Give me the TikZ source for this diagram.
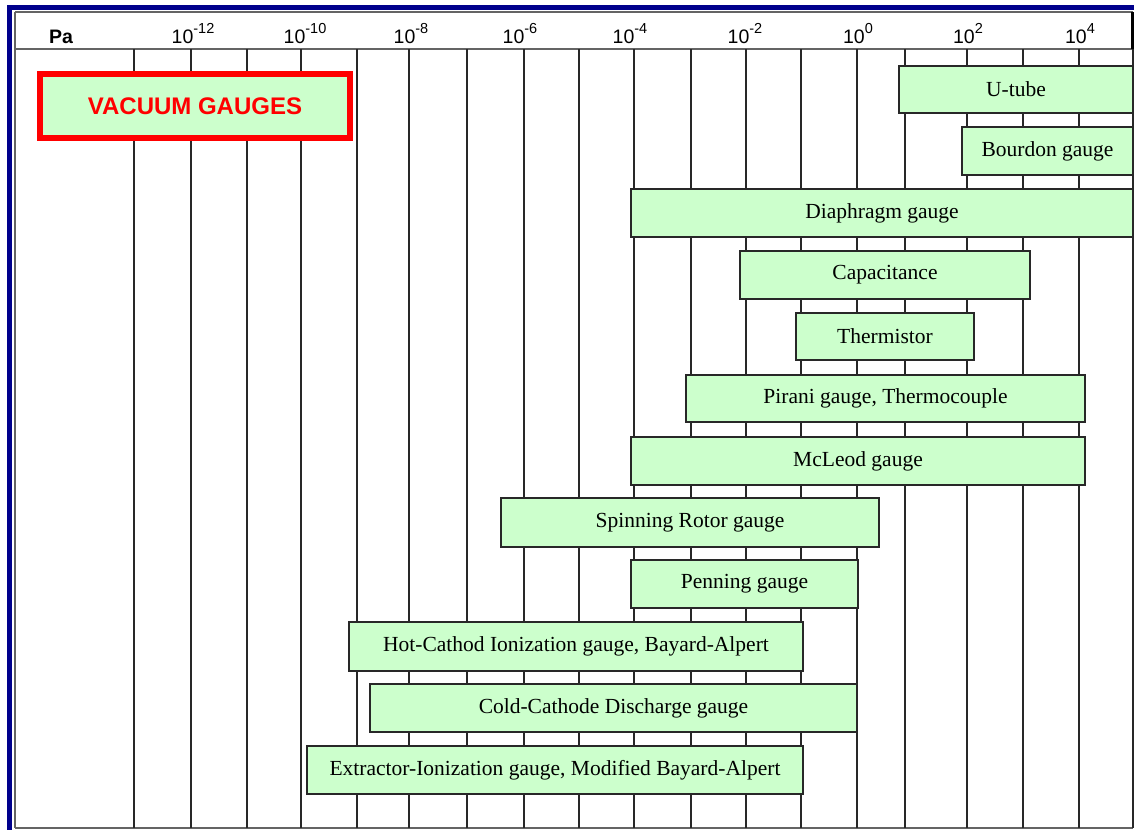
\documentclass[tikz,border=0pt]{standalone}
\usepackage{fontspec}
\setmainfont{Liberation Serif}
\newfontfamily\arialfont{Liberation Sans}
\definecolor{navyframe}{RGB}{0,0,140}
\definecolor{gaugefill}{RGB}{204,255,204}
\definecolor{gridgray}{RGB}{40,40,40}
\definecolor{framegray}{RGB}{100,100,100}
\definecolor{titlered}{RGB}{255,0,0}
\newcommand{\decade}[1]{10\raisebox{10pt}{\fontsize{14.5}{16}\selectfont #1}}
\newcommand{\gaugebox}[6]{%
  \node[gauge, minimum width={(#4-#2)*1pt}, minimum height={(#5-#3)*1pt}]
    (#1) at ({(#2+#4)/2},{(#3+#5)/2}) {#6};}
\begin{document}
\begin{tikzpicture}[x=1pt,y=-1pt,
  gauge/.style={draw=gridgray, line width=1.4pt, fill=gaugefill, inner sep=0pt,
    font=\fontsize{21.5}{24}\selectfont},
  gridline/.style={draw=gridgray, line width=1.3pt},
  framegrayline/.style={draw=framegray, line width=1.5pt},
  navyline/.style={draw=navyframe, line width=4.5pt},
  axislabel/.style={font=\arialfont\fontsize{19.5}{22}\selectfont, anchor=base, inner sep=0pt},
  titlebox/.style={draw=titlered, line width=5.5pt, fill=gaugefill, inner sep=0pt,
    font=\arialfont\bfseries\fontsize{24}{26}\selectfont, text=titlered}
]
\useasboundingbox[fill=white] (0,0) rectangle (1134,830);
% outer navy frame
\draw[navyline] (7,7.25) -- (1134,7.25);
\draw[navyline] (9.5,5) -- (9.5,830);
% inner gray frame
\draw[framegrayline] (15,12) -- (1133,12);
\draw[framegrayline] (15,12) -- (15,828);
\draw[framegrayline] (15,828) -- (1133,828);
\draw[framegrayline] (15,49) -- (1133,49);
\draw[gridgray, line width=1.4pt] (1133,49) -- (1133,828);
\draw[black, line width=2.5pt] (1132.5,12) -- (1132.5,49);
% grid lines
\foreach \gx in {134,191,247,301,357,409,467,524,579,634,691,746,801,857,905,967,1023,1079}
  \draw[gridline] (\gx,49) -- (\gx,828);
% axis labels
\node[axislabel, font=\arialfont\bfseries\fontsize{19.5}{22}\selectfont] (pa) at (61,43.5) {Pa};
\node[axislabel] (em12) at (193,43.5) {\decade{-12}};
\node[axislabel] (em10) at (305,43.5) {\decade{-10}};
\node[axislabel] (em8) at (411,43.5) {\decade{-8}};
\node[axislabel] (em6) at (520,43.5) {\decade{-6}};
\node[axislabel] (em4) at (630,43.5) {\decade{-4}};
\node[axislabel] (em2) at (745,43.5) {\decade{-2}};
\node[axislabel] (e0) at (858,43.5) {\decade{0}};
\node[axislabel] (e2) at (968,43.5) {\decade{2}};
\node[axislabel] (e4) at (1080,43.5) {\decade{4}};
% title
\node[titlebox, minimum width=310pt, minimum height=64pt] (title) at (195,106) {VACUUM GAUGES};
% gauges
\gaugebox{utube}{899}{66}{1133}{113}{U-tube}
\gaugebox{bourdon}{962}{127}{1133}{175}{Bourdon gauge}
\gaugebox{diaphragm}{631}{189}{1133}{237}{Diaphragm gauge}
\gaugebox{capacitance}{740}{251}{1030}{299}{Capacitance}
\gaugebox{thermistor}{796}{313}{974}{360}{Thermistor}
\gaugebox{pirani}{686}{375}{1085}{422}{Pirani gauge, Thermocouple}
\gaugebox{mcleod}{631}{437}{1085}{485}{McLeod gauge}
\gaugebox{spinning}{501}{498}{879}{547}{Spinning Rotor gauge}
\gaugebox{penning}{631}{560}{858}{608}{Penning gauge}
\gaugebox{hotcathod}{349}{622}{803}{671}{Hot-Cathod Ionization gauge, Bayard-Alpert}
\gaugebox{coldcathode}{370}{684}{857}{732}{Cold-Cathode Discharge gauge}
\gaugebox{extractor}{307}{746}{803}{794}{Extractor-Ionization gauge, Modified Bayard-Alpert}
\end{tikzpicture}
\end{document}
